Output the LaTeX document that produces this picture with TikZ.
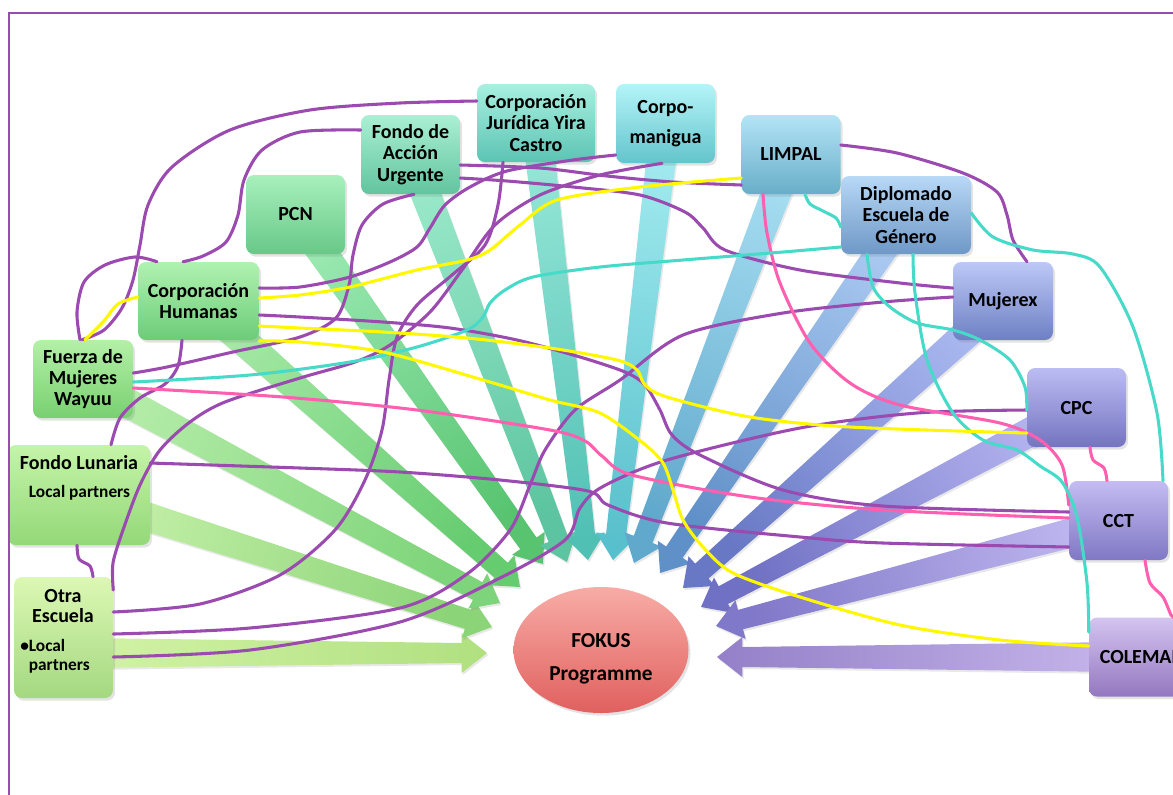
\documentclass[tikz,border=0pt]{standalone}
\usepackage{fontspec}
\setmainfont{Carlito}
\usetikzlibrary{arrows.meta,shadows,shapes.geometric,calc}
\pgfdeclarelayer{bg}
\pgfsetlayers{bg,main}
\definecolor{purp}{RGB}{155,74,176}
\definecolor{yel}{RGB}{255,248,0}
\definecolor{cyn}{RGB}{72,218,200}
\definecolor{pnk}{RGB}{255,95,175}
% box colours
\definecolor{humT}{HTML}{B0F2B0}\definecolor{humB}{HTML}{6CCC78}
\definecolor{fueT}{HTML}{B4F0A8}\definecolor{fueB}{HTML}{78D070}
\definecolor{lunT}{HTML}{C4F4A8}\definecolor{lunB}{HTML}{94D878}
\definecolor{otrT}{HTML}{DCF8B4}\definecolor{otrB}{HTML}{A4D880}
\definecolor{pcnT}{HTML}{A8F0BC}\definecolor{pcnB}{HTML}{68C888}
\definecolor{fauT}{HTML}{AAF0D4}\definecolor{fauB}{HTML}{62C49E}
\definecolor{yirT}{HTML}{A8F0E0}\definecolor{yirB}{HTML}{5CC4B4}
\definecolor{corT}{HTML}{B4F4F8}\definecolor{corB}{HTML}{64C4CC}
\definecolor{limT}{HTML}{B4E4F6}\definecolor{limB}{HTML}{68AEC8}
\definecolor{dipT}{HTML}{B8D8F6}\definecolor{dipB}{HTML}{6E98C6}
\definecolor{mujT}{HTML}{BCC8F6}\definecolor{mujB}{HTML}{6E80C4}
\definecolor{cpcT}{HTML}{BCBCF4}\definecolor{cpcB}{HTML}{7474C0}
\definecolor{cctT}{HTML}{C4BCF2}\definecolor{cctB}{HTML}{8078C4}
\definecolor{colT}{HTML}{D4C4F0}\definecolor{colB}{HTML}{9478C0}
\definecolor{fokT}{HTML}{F8ACA6}\definecolor{fokB}{HTML}{E0605E}
% arrow colours (tail / tip)
\definecolor{aOtrL}{HTML}{D4F4A8}\definecolor{aOtrD}{HTML}{B0E080}
\definecolor{aLunL}{HTML}{C4F0A8}\definecolor{aLunD}{HTML}{8CD478}
\definecolor{aFueL}{HTML}{B4ECA8}\definecolor{aFueD}{HTML}{7ED47A}
\definecolor{aHumL}{HTML}{A4E8A4}\definecolor{aHumD}{HTML}{66CC70}
\definecolor{aPcnL}{HTML}{98E8B0}\definecolor{aPcnD}{HTML}{58C470}
\definecolor{aFauL}{HTML}{98E8C8}\definecolor{aFauD}{HTML}{5CC4A0}
\definecolor{aYirL}{HTML}{98E8D8}\definecolor{aYirD}{HTML}{50C0B4}
\definecolor{aCorL}{HTML}{A4ECF0}\definecolor{aCorD}{HTML}{58C0CC}
\definecolor{aLimL}{HTML}{A4DCF0}\definecolor{aLimD}{HTML}{60A8CC}
\definecolor{aDipL}{HTML}{A8C8F0}\definecolor{aDipD}{HTML}{6090C8}
\definecolor{aMujL}{HTML}{AAB8F0}\definecolor{aMujD}{HTML}{6878C4}
\definecolor{aCpcL}{HTML}{B4B4F0}\definecolor{aCpcD}{HTML}{7070C4}
\definecolor{aCctL}{HTML}{C0B8F0}\definecolor{aCctD}{HTML}{8078C8}
\definecolor{aColL}{HTML}{C8B8EC}\definecolor{aColD}{HTML}{9480C8}
% tapered block arrow: start, tip, tail colour, tip colour, shading angle
\newcommand\fokarrow[5]{%
  \path ($(#2)!19pt!(#1)$) coordinate (hb);
  \shade[top color=#3, bottom color=#4, shading angle=#5,
    drop shadow={shadow xshift=1pt,shadow yshift=-1.5pt,opacity=0.18}]
    ($(#1)!11.5pt!90:(#2)$) -- ($(hb)!7.5pt!90:(#2)$) -- ($(hb)!15pt!90:(#2)$) -- (#2)
    -- ($(hb)!15pt!-90:(#2)$) -- ($(hb)!7.5pt!-90:(#2)$) -- ($(#1)!11.5pt!-90:(#2)$) -- cycle;}
\begin{document}
\begin{tikzpicture}[x=0.75pt,y=-0.75pt,
  box/.style={rounded corners=6pt, align=center, inner sep=1pt,
    font=\bfseries\fontsize{15}{16}\selectfont,
    drop shadow={shadow xshift=1.5pt,shadow yshift=-2pt,opacity=0.22}},
  sz/.style 2 args={minimum width=#1*0.75pt, minimum height=#2*0.75pt},
  gr/.style 2 args={top color=#1, bottom color=#2},
  con/.style={line width=2.3pt, line cap=round},
  txt/.style={inner sep=0pt, font=\bfseries\fontsize{15}{16}\selectfont}]
\useasboundingbox (0,0) rectangle (1173,794);

% ---------- boxes ----------
\node[box,sz={99}{79},gr={pcnT}{pcnB}] (pcn) at (295.5,214.5) {PCN};
\node[box,sz={99}{79},gr={fauT}{fauB}] (fau) at (410.5,154.5) {Fondo de\\Acción\\Urgente};
\node[box,sz={118}{78},gr={yirT}{yirB}] (yira) at (536,123) {Corporación\\Jurídica Yira\\Castro};
\node[box,sz={99}{79},gr={corT}{corB}] (corpo) at (665.5,123.5) {Corpo-\\[7pt]manigua};
\node[box,sz={99}{79},gr={limT}{limB}] (limpal) at (791,154.5) {LIMPAL};
\node[box,sz={130}{78},gr={dipT}{dipB}] (dipl) at (906,215) {Diplomado\\Escuela de\\Género};
\node[box,sz={100}{78},gr={mujT}{mujB}] (mujx) at (1003,301) {Mujerex};
\node[box,sz={99}{79},gr={cpcT}{cpcB}] (cpc) at (1076.5,407.5) {CPC};
\node[box,sz={99}{79},gr={cctT}{cctB}] (cct) at (1118.5,520.5) {CCT};
\node[box,sz={106}{79},gr={colT}{colB}] (colemad) at (1142,657) {COLEMAD};
\node[box,sz={121}{78},gr={humT}{humB}] (hum) at (198.5,301) {Corporación\\Humanas};
\node[box,sz={100}{78},gr={fueT}{fueB}] (fuer) at (83,379) {Fuerza de\\Mujeres\\Wayuu};
\node[box,sz={142}{100},gr={lunT}{lunB}] (lun) at (79,495) {};
\node[txt] (lunA) at (79,463) {Fondo Lunaria};
\node[txt,font=\bfseries\fontsize{13}{15}\selectfont] (lunB) at (79.5,493) {Local partners};
\node[box,sz={99}{121},gr={otrT}{otrB}] (otra) at (63.5,637.5) {};
\node[txt,align=center,font=\bfseries\fontsize{15}{14.3}\selectfont] (otraA) at (63,606) {Otra\\Escuela};
\node[txt,anchor=base west,font=\bfseries\fontsize{13}{15}\selectfont] (otraB) at (20,651) {•Local};
\node[txt,anchor=base west,font=\bfseries\fontsize{13}{15}\selectfont] (otraC) at (28.5,670) {partners};
\node[ellipse,sz={175}{126},gr={fokT}{fokB},
  drop shadow={shadow xshift=1.5pt,shadow yshift=-2pt,opacity=0.22}] (fokus) at (601,650) {};
\node[txt,align=center,font=\bfseries\fontsize{16}{24.5}\selectfont] (fokT) at (601,659) {FOKUS\\Programme};

% ---------- big arrows ----------
\coordinate (tOtr) at (487,653);
\coordinate (tLun) at (492,627);
\coordinate (tFue) at (500,603);
\coordinate (tHum) at (520,587);
\coordinate (tPcn) at (543,564);
\coordinate (tFau) at (567,562);
\coordinate (tYir) at (588,560);
\coordinate (tCor) at (613,560);
\coordinate (tLim) at (634,563);
\coordinate (tDip) at (660,573);
\coordinate (tMuj) at (683,588);
\coordinate (tCpc) at (701,607);
\coordinate (tCct) at (716,626);
\coordinate (tCol) at (717,657);
\coordinate (sOtr) at (otra.center |- tOtr);
\coordinate (sCol) at (colemad.center |- tCol);
\begin{pgfonlayer}{bg}
\fokarrow{sOtr}{tOtr}{aOtrL}{aOtrD}{90}
\fokarrow{lun.center}{tLun}{aLunL}{aLunD}{72}
\fokarrow{fuer.center}{tFue}{aFueL}{aFueD}{62}
\fokarrow{hum.center}{tHum}{aHumL}{aHumD}{48}
\fokarrow{pcn.center}{tPcn}{aPcnL}{aPcnD}{35}
\fokarrow{fau.center}{tFau}{aFauL}{aFauD}{21}
\fokarrow{yira.center}{tYir}{aYirL}{aYirD}{7}
\fokarrow{corpo.center}{tCor}{aCorL}{aCorD}{-7}
\fokarrow{limpal.center}{tLim}{aLimL}{aLimD}{-21}
\fokarrow{dipl.center}{tDip}{aDipL}{aDipD}{-34}
\fokarrow{mujx.center}{tMuj}{aMujL}{aMujD}{-48}
\fokarrow{cpc.center}{tCpc}{aCpcL}{aCpcD}{-62}
\fokarrow{cct.center}{tCct}{aCctL}{aCctD}{-75}
\fokarrow{sCol}{tCol}{aColL}{aColD}{-90}
\end{pgfonlayer}

% ---------- purple connectors ----------
\draw[con,purp] plot[smooth] coordinates {(yira.west |- 0,101) (400,103) (310,110) (230,130) (172,167) (148,205) (140,245) (133,280) (122,308) (104,330) (fuer.north -| 82,0)};
\draw[con,purp] plot[smooth] coordinates {(fuer.north -| 80,0) (77,312) (84,282) (105,265) (135,257) (hum.north -| 157,0)};
\draw[con,purp] plot[smooth] coordinates {(fau.west |- 0,130) (300,132) (262,150) (244,180) (238,215) (226,242) (203,256) (hum.north -| 183,0)};
\draw[con,purp] plot[smooth] coordinates {(fuer.east |- 0,373) (167,367) (233,352) (300,337) (336,318) (349,285) (353,255) (362,225) (383,204) (fau.south -| 414,0)};
\draw[con,purp] plot[smooth] coordinates {(hum.south -| 182,0) (178,366) (165,384) (140,398) (120,418) (lun.north -| 111,0)};
\draw[con,purp] plot[smooth] coordinates {(lun.south -| 77,0) (79,559) (90,566) (otra.north -| 93,0)};
\draw[con,purp] plot[smooth] coordinates {(otra.east |- 0,590) (113,563) (123,530) (140,485) (160,450) (190,422) (225,402) (300,378) (355,362) (390,345) (430,312) (462,270) (495,225) (540,195) (600,175) (corpo.south -| 662,0)};
\draw[con,purp] plot[smooth] coordinates {(otra.east |- 0,612) (200,604) (280,575) (335,530) (365,480) (382,430) (389,380) (397,337) (417,305) (452,275) (485,245) (498,205) (yira.south -| 503,0)};
\draw[con,purp] plot[smooth] coordinates {(otra.east |- 0,634) (250,628) (400,608) (467,574) (510,530) (530,485) (545,450) (575,410) (620,380) (683,335) (783,313) (883,302) (mujx.west |- 0,297)};
\draw[con,purp] plot[smooth] coordinates {(otra.east |- 0,657) (250,650) (400,622) (500,578) (565,540) (580,508) (602,487) (667,460) (800,428) (917,413) (cpc.west |- 0,410)};
\draw[con,purp] plot[smooth] coordinates {(hum.east |- 0,288) (300,287) (350,277) (390,262) (417,247) (430,228) (445,205) (470,187) (507,171) (573,160) (corpo.west |- 0,155)};
\draw[con,purp] plot[smooth] coordinates {(hum.east |- 0,315) (300,317) (383,322) (450,328) (517,340) (580,357) (625,372) (645,385) (660,410) (672,435) (700,455) (783,490) (883,506) (cct.west |- 0,512)};
\draw[con,purp] plot[smooth] coordinates {(lun.east |- 0,463) (300,468) (400,472) (500,480) (588,491) (608,505) (667,523) (800,537) (883,543) (cct.west |- 0,547)};
\draw[con,purp] plot[smooth] coordinates {(fau.east |- 0,165) (540,168) (607,176) (673,182) (limpal.west |- 0,185)};
\draw[con,purp] plot[smooth] coordinates {(fau.east |- 0,178) (507,181) (573,187) (640,195) (685,212) (703,228) (725,250) (800,270) (900,283) (mujx.west |- 0,288)};
\draw[con,purp] plot[smooth] coordinates {(limpal.east |- 0,145) (897,153) (963,173) (997,192) (1007,215) (1013,240) (mujx.north -| 1027,0)};

% ---------- pink connectors ----------
\draw[con,pnk] plot[smooth] coordinates {(fuer.east |- 0,388) (283,397) (417,410) (550,430) (585,441) (602,456) (632,475) (750,497) (883,510) (cct.west |- 0,518)};
\draw[con,pnk] plot[smooth] coordinates {(limpal.south -| 763,0) (767,233) (780,283) (810,343) (850,383) (900,405) (1000,423) (1040,440) (1062,465) (cct.west |- 0,505)};
\draw[con,pnk] plot[smooth] coordinates {(cpc.south -| 1090,0) (1093,460) (1104,468) (cct.north -| 1107,0)};
\draw[con,pnk] plot[smooth] coordinates {(cct.south -| 1145,0) (1150,583) (1163,597) (1171,615) (colemad.north -| 1174,0)};

% ---------- cyan connectors ----------
\draw[con,cyn] plot[smooth] coordinates {(fuer.east |- 0,382) (250,375) (350,362) (417,347) (467,330) (483,317) (490,303) (505,290) (533,277) (600,267) (683,260) (783,252) (dipl.west |- 0,247)};
\draw[con,cyn] plot[smooth] coordinates {(limpal.south -| 805,0) (810,204) (823,211) (836,218) (dipl.west |- 0,227)};
\draw[con,cyn] plot[smooth] coordinates {(dipl.east |- 0,213) (993,237) (1033,250) (1073,254) (1100,267) (1133,327) (1157,413) (cct.north -| 1163,0)};
\draw[con,cyn] plot[smooth] coordinates {(dipl.south -| 867,0) (873,287) (890,307) (917,323) (953,330) (980,340) (1010,360) (1025,387) (cpc.west |- 0,410)};
\draw[con,cyn] plot[smooth] coordinates {(dipl.south -| 913,0) (915,293) (927,360) (953,413) (983,440) (1017,450) (1040,466) (1062,482) (1077,517) (1087,583) (colemad.west |- 0,632)};

% ---------- yellow connectors ----------
\draw[con,yel] plot[smooth] coordinates {(fuer.north -| 85,0) (103,322) (118,304) (hum.west |- 0,297)};
\draw[con,yel] plot[smooth] coordinates {(hum.east |- 0,298) (300,295) (350,287) (417,270) (467,260) (490,250) (520,225) (557,200) (640,187) (limpal.west |- 0,178)};
\draw[con,yel] plot[smooth] coordinates {(hum.east |- 0,326) (300,328) (383,332) (467,338) (550,348) (617,360) (637,370) (645,385) (667,397) (750,417) (850,427) (cpc.west |- 0,433)};
\draw[con,yel] plot[smooth] coordinates {(hum.east |- 0,341) (300,342) (383,352) (483,380) (550,400) (600,413) (643,443) (663,463) (673,490) (683,520) (703,547) (733,573) (800,597) (900,625) (1000,640) (colemad.west |- 0,646)};

% ---------- frame ----------
\draw[purp,line width=2.2pt] (9,800) -- (9,13) -- (1180,13);
\end{tikzpicture}
\end{document}
